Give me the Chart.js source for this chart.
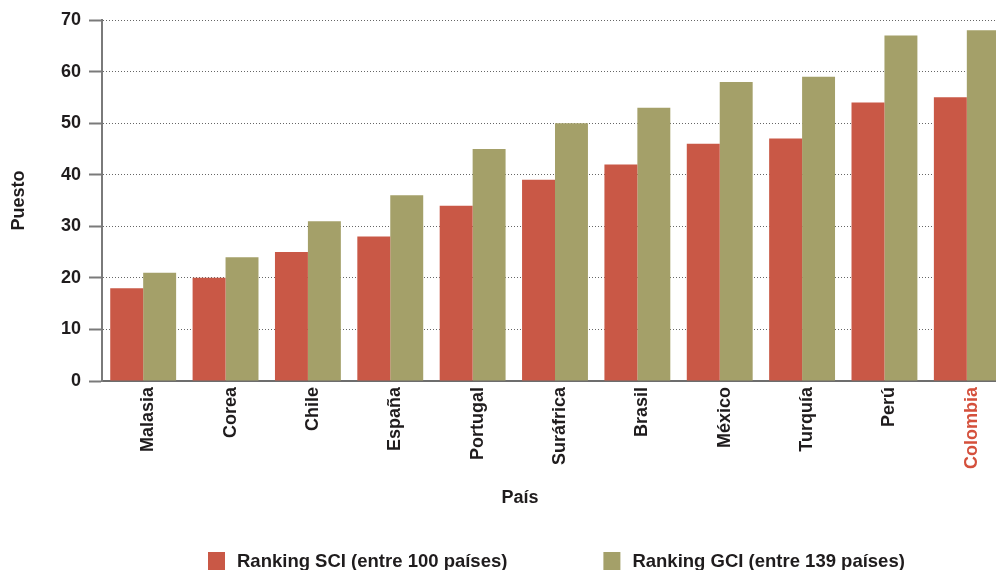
<!DOCTYPE html>
<html>
<head>
<meta charset="utf-8">
<script src="https://cdn.jsdelivr.net/npm/chart.js@4/dist/chart.umd.min.js"></script>
<style>
    html, body { margin: 0; padding: 0; background: #fff; overflow: hidden; }
    #wrap { position: absolute; left: 0; top: 0; width: 1008px; height: 570px; }
</style>
</head>
<body>
<div id="wrap"><canvas id="rankingChart"></canvas></div>
<script>
const paises = ['Malasia', 'Corea', 'Chile', 'España', 'Portugal', 'Suráfrica', 'Brasil', 'México', 'Turquía', 'Perú', 'Colombia'];
const rankingSCI = [18, 20, 25, 28, 34, 39, 42, 46, 47, 54, 55];
const rankingGCI = [21, 24, 31, 36, 45, 50, 53, 58, 59, 67, 68];
const nombresSeries = ['Ranking SCI (entre 100 países)', 'Ranking GCI (entre 139 países)'];
const tituloX = 'País';
const tituloY = 'Puesto';
const destacado = 'Colombia';

const rojo = '#c95846';
const oliva = '#a4a069';
const texto = '#1f1c1d';
const fuente = "'Liberation Sans', Arial, Helvetica, sans-serif";

// Leyenda y título del eje X dibujados a mano (el original no está centrado en el lienzo)
const leyendaPlugin = {
    id: 'leyendaAbajo',
    afterDraw(chart) {
        const ctx = chart.ctx;
        ctx.save();
        ctx.fillStyle = texto;
        ctx.font = 'bold 18px ' + fuente;
        ctx.textAlign = 'center';
        ctx.textBaseline = 'middle';
        ctx.fillText(tituloX, 520, 498);

        ctx.font = 'bold 18.5px ' + fuente;
        ctx.textAlign = 'left';
        let x = 208;
        chart.data.datasets.forEach(ds => {
            ctx.fillStyle = ds.backgroundColor;
            ctx.fillRect(x, 552, 17, 22);
            ctx.fillStyle = texto;
            ctx.fillText(ds.label, x + 29, 562);
            x += 29 + ctx.measureText(ds.label).width + 96;
        });
        ctx.restore();
    }
};

new Chart(document.getElementById('rankingChart'), {
    type: 'bar',
    data: {
        labels: paises,
        datasets: [
            { label: nombresSeries[0], data: rankingSCI, backgroundColor: rojo },
            { label: nombresSeries[1], data: rankingGCI, backgroundColor: oliva }
        ]
    },
    options: {
        responsive: true,
        maintainAspectRatio: false,
        animation: false,
        layout: { padding: { top: 20, right: 0, bottom: 58, left: 0 } },
        datasets: { bar: { categoryPercentage: 0.8, barPercentage: 1.0 } },
        plugins: {
            legend: { display: false },
            tooltip: { enabled: false }
        },
        scales: {
            x: {
                grid: { display: false, drawTicks: false },
                border: { display: true, color: '#6d6d6d', width: 2 },
                ticks: {
                    minRotation: 90,
                    maxRotation: 90,
                    padding: 6,
                    labelOffset: 5,
                    font: { family: fuente, size: 18, weight: 'bold' },
                    color: c => paises[c.index] === destacado ? '#d4503c' : texto
                },
                afterFit(scale) { scale.height = 131; }
            },
            y: {
                min: 0,
                max: 70,
                ticks: {
                    stepSize: 10,
                    padding: 8,
                    color: texto,
                    font: { family: fuente, size: 18, weight: 'bold' }
                },
                grid: {
                    color: '#666',
                    lineWidth: 1,
                    drawTicks: true,
                    tickLength: 13,
                    tickColor: '#7a7a7a',
                    tickWidth: 2,
                    tickBorderDash: []
                },
                border: { display: true, color: '#7a7a7a', width: 2, dash: [1, 2] },
                title: {
                    display: true,
                    text: tituloY,
                    color: texto,
                    font: { family: fuente, size: 18, weight: 'bold' },
                    padding: { top: 8, bottom: 0 }
                },
                afterFit(scale) { scale.width = 102; }
            }
        }
    },
    plugins: [leyendaPlugin]
});
</script>
</body>
</html>
